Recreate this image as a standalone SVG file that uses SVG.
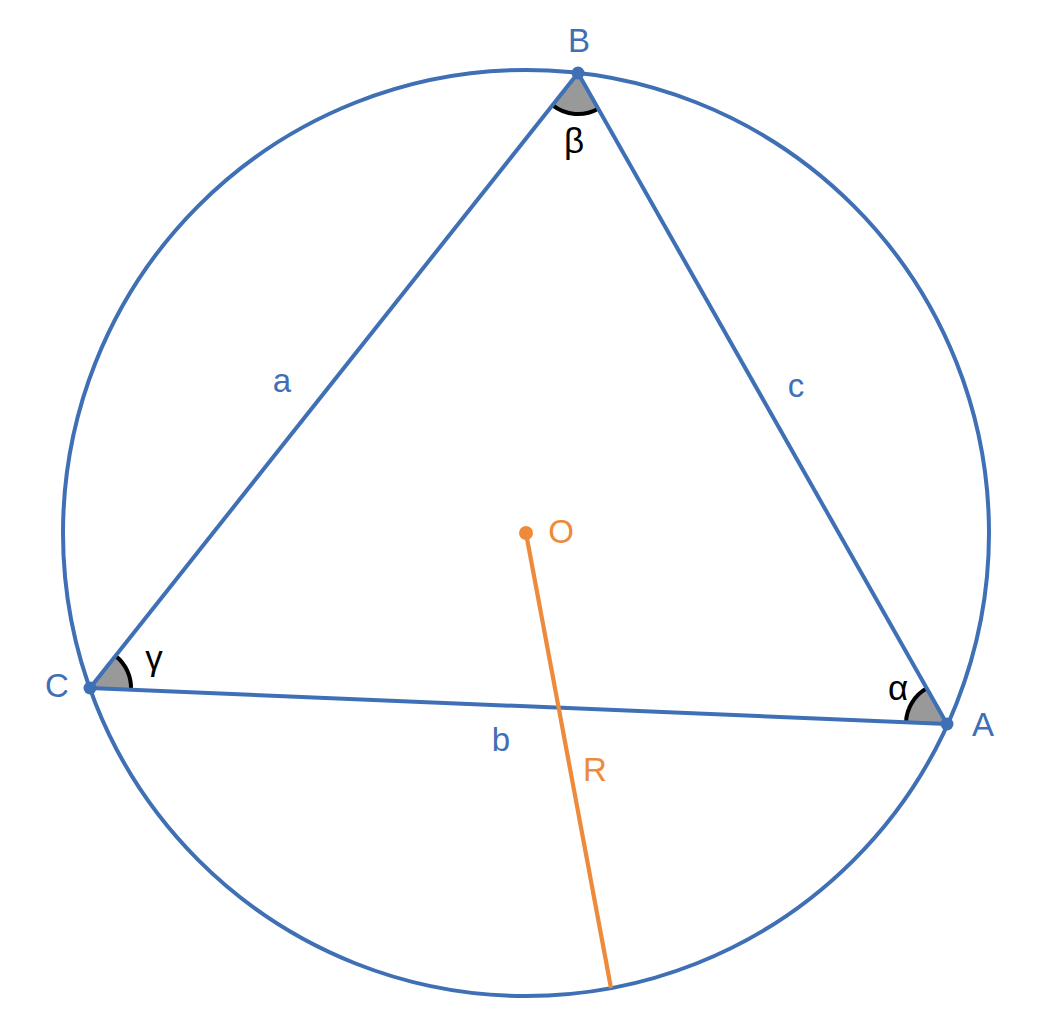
<svg xmlns="http://www.w3.org/2000/svg" width="1050" height="1034" viewBox="0 0 1050 1034">
<style>
.blue{stroke:#3f6fb4;stroke-width:4;fill:none}
.orange{stroke:#ee8a3b;stroke-width:4.2;fill:none}
.wedge{fill:#999999;stroke:none}
.arc{fill:none;stroke:#000000;stroke-width:4}
.lbl{font-family:"Liberation Sans",Arial,sans-serif;font-size:33px;text-anchor:middle}
.gk{font-size:35px}
.lb{fill:#3f6fb4}
.lo{fill:#ee8a3b}
.lk{fill:#000000}
</style>
<rect width="1050" height="1034" fill="#ffffff"/>
<g id="angles">
<path class="wedge" d="M578,73 L552.5,105.1 A41,41 0 0 0 598.2,108.7 Z"/>
<path class="wedge" d="M90,688 L115.5,655.9 A41,41 0 0 1 131,689.7 Z"/>
<path class="wedge" d="M947,724 L906,722.3 A41,41 0 0 1 926.8,688.3 Z"/>
<path class="arc" d="M552.5,105.1 A41,41 0 0 0 598.2,108.7"/>
<path class="arc" d="M115.5,655.9 A41,41 0 0 1 131,689.7"/>
<path class="arc" d="M906,722.3 A41,41 0 0 1 926.8,688.3"/>
</g>
<g id="connectors">
<circle id="circumcircle" class="blue" cx="526" cy="533" r="463"/>
<line id="side-a" class="blue" x1="578" y1="73" x2="90" y2="688"/>
<line id="side-c" class="blue" x1="578" y1="73" x2="947" y2="724"/>
<line id="side-b" class="blue" x1="90" y1="688" x2="947" y2="724"/>
<line id="radius" class="orange" x1="526" y1="533" x2="611" y2="988"/>
</g>
<g id="node-B"><circle cx="578" cy="73" r="6.5" fill="#3f6fb4"/><text class="lbl lb" x="579" y="52">B</text></g>
<g id="node-C"><circle cx="90" cy="688" r="6.5" fill="#3f6fb4"/><text class="lbl lb" x="57" y="697">C</text></g>
<g id="node-A"><circle cx="947" cy="724" r="6.5" fill="#3f6fb4"/><text class="lbl lb" x="983" y="736">A</text></g>
<g id="node-O"><circle cx="526" cy="533" r="7" fill="#ee8a3b"/><text class="lbl lo" x="561" y="543">O</text></g>
<g id="labels">
<text class="lbl lb" x="282" y="392">a</text>
<text class="lbl lb" x="796" y="397">c</text>
<text class="lbl lb" x="501" y="751">b</text>
<text class="lbl lo" x="595" y="781">R</text>
<text class="lbl gk lk" x="574" y="153">β</text>
<text class="lbl gk lk" x="154" y="670">γ</text>
<text class="lbl gk lk" x="898" y="700">α</text>
</g>
</svg>
